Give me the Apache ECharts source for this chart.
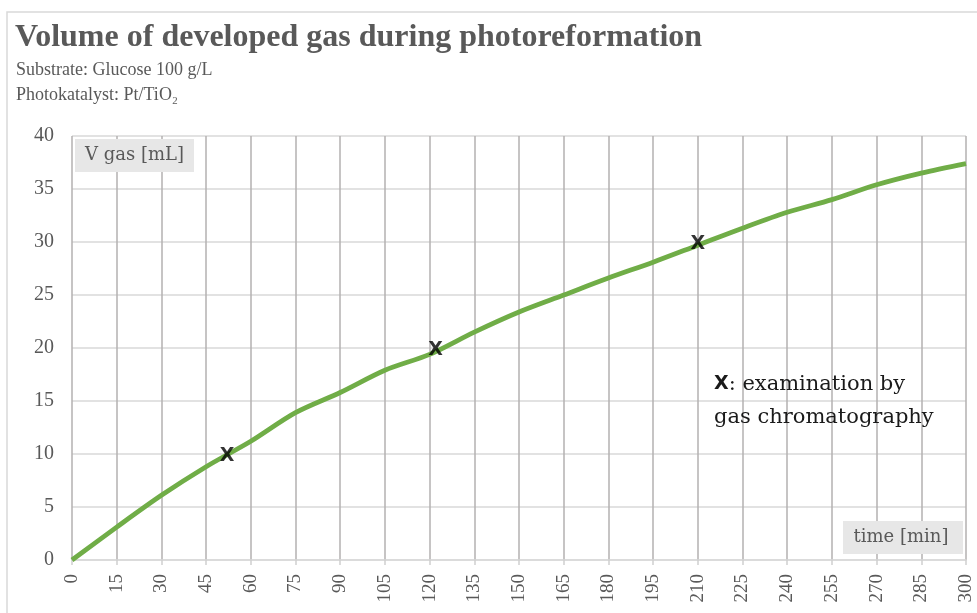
<!DOCTYPE html>
<html>
<head>
<meta charset="utf-8">
<script src="https://cdn.jsdelivr.net/npm/echarts@6/dist/echarts.min.js"></script>
<style>
  html, body { margin: 0; padding: 0; background: #fff; }
  #chart { width: 977px; height: 613px; }
</style>
</head>
<body>
<div id="chart"></div>
<script>
// time in minutes and measured gas volume in mL
var times = [0, 15, 30, 45, 60, 75, 90, 105, 120, 135, 150, 165, 180, 195, 210, 225, 240, 255, 270, 285, 300];
var volumes = [0, 3.1, 6.1, 8.8, 11.2, 13.9, 15.8, 17.9, 19.4, 21.5, 23.4, 25.0, 26.6, 28.1, 29.7, 31.3, 32.8, 34.0, 35.4, 36.5, 37.4];
// samples taken for gas chromatography
var gcTimes = [52, 122, 210];
var gcVolumes = [10, 20, 30];

var serif = '"Liberation Serif", "DejaVu Serif", serif';
var wideSerif = '"DejaVu Serif", "Liberation Serif", serif';
var grey = '#595959';

var lineData = times.map(function (t, i) { return [t, volumes[i]]; });
var gcData = gcTimes.map(function (t, i) { return [t, gcVolumes[i]]; });

var chart = echarts.init(document.getElementById('chart'));

var option = {
  animation: false,
  backgroundColor: '#fff',
  grid: { left: 72, right: 11, top: 136, bottom: 53 },
  xAxis: {
    type: 'value',
    min: 0,
    max: 300,
    interval: 15,
    axisLine: { lineStyle: { color: '#d9d9d9', width: 1.5 } },
    axisTick: { show: true, length: 5, lineStyle: { color: '#d0d0d0', width: 1.5 } },
    splitLine: { show: true, lineStyle: { color: '#b3b0b0', width: 1.5 } },
    axisLabel: {
      rotate: 90,
      margin: 14,
      color: grey,
      fontFamily: serif,
      fontSize: 19
    }
  },
  yAxis: {
    type: 'value',
    min: 0,
    max: 40,
    interval: 5,
    axisLine: { show: false },
    axisTick: { show: false },
    splitLine: { lineStyle: { color: '#d9d9d9', width: 1.5 } },
    axisLabel: {
      margin: 18,
      color: grey,
      fontFamily: serif,
      fontSize: 20
    }
  },
  series: [
    {
      type: 'line',
      data: lineData,
      smooth: 0.3,
      showSymbol: false,
      lineStyle: { color: '#70ad47', width: 4.8 },
      z: 3
    },
    {
      type: 'scatter',
      data: gcData,
      symbolSize: 1,
      itemStyle: { color: 'rgba(0,0,0,0)' },
      label: {
        show: true,
        position: 'inside',
        offset: [0, 2],
        formatter: 'X',
        fontFamily: '"DejaVu Sans", Arial, sans-serif',
        fontWeight: 'bold',
        fontSize: 19,
        color: '#000'
      },
      z: 4
    }
  ],
  graphic: [
    {
      type: 'rect',
      shape: { x: 7, y: 12, width: 990, height: 640 },
      style: { fill: 'none', stroke: '#d9d9d9', lineWidth: 1.5 },
      silent: true,
      z: -10
    },
    {
      type: 'text',
      left: 15,
      top: 22,
      style: {
        text: 'Volume of developed gas during photoreformation',
        font: 'bold 32px ' + serif,
        fill: grey
      }
    },
    {
      type: 'text',
      left: 16,
      top: 61,
      style: { text: 'Substrate: Glucose 100 g/L', font: '18px ' + serif, fill: grey }
    },
    {
      type: 'text',
      left: 16,
      top: 86,
      style: { text: 'Photokatalyst: Pt/TiO\u2082', font: '18px ' + serif, fill: grey }
    },
    {
      type: 'rect',
      shape: { x: 75, y: 139, width: 119, height: 33 },
      style: { fill: '#e7e7e7' },
      z: 5
    },
    {
      type: 'text',
      x: 134.5,
      y: 155.5,
      style: {
        text: 'V gas [mL]',
        font: '18px ' + wideSerif,
        fill: grey,
        align: 'center',
        verticalAlign: 'middle'
      },
      z: 6
    },
    {
      type: 'rect',
      shape: { x: 843, y: 521, width: 120, height: 33 },
      style: { fill: '#e7e7e7' },
      z: 5
    },
    {
      type: 'text',
      x: 901,
      y: 537.5,
      style: {
        text: 'time [min]',
        font: '18px ' + wideSerif,
        fill: grey,
        align: 'center',
        verticalAlign: 'middle'
      },
      z: 6
    },
    {
      type: 'text',
      left: 714,
      top: 368,
      style: {
        text: '{x|X}: examination by\ngas chromatography',
        font: '21px ' + wideSerif,
        fill: '#1a1a1a',
        lineHeight: 33,
        rich: {
          x: {
            fontFamily: '"DejaVu Sans", Arial, sans-serif',
            fontSize: 19,
            fontWeight: 'bold',
            fill: '#1a1a1a'
          }
        }
      },
      z: 6
    }
  ]
};

chart.setOption(option);
</script>
</body>
</html>
